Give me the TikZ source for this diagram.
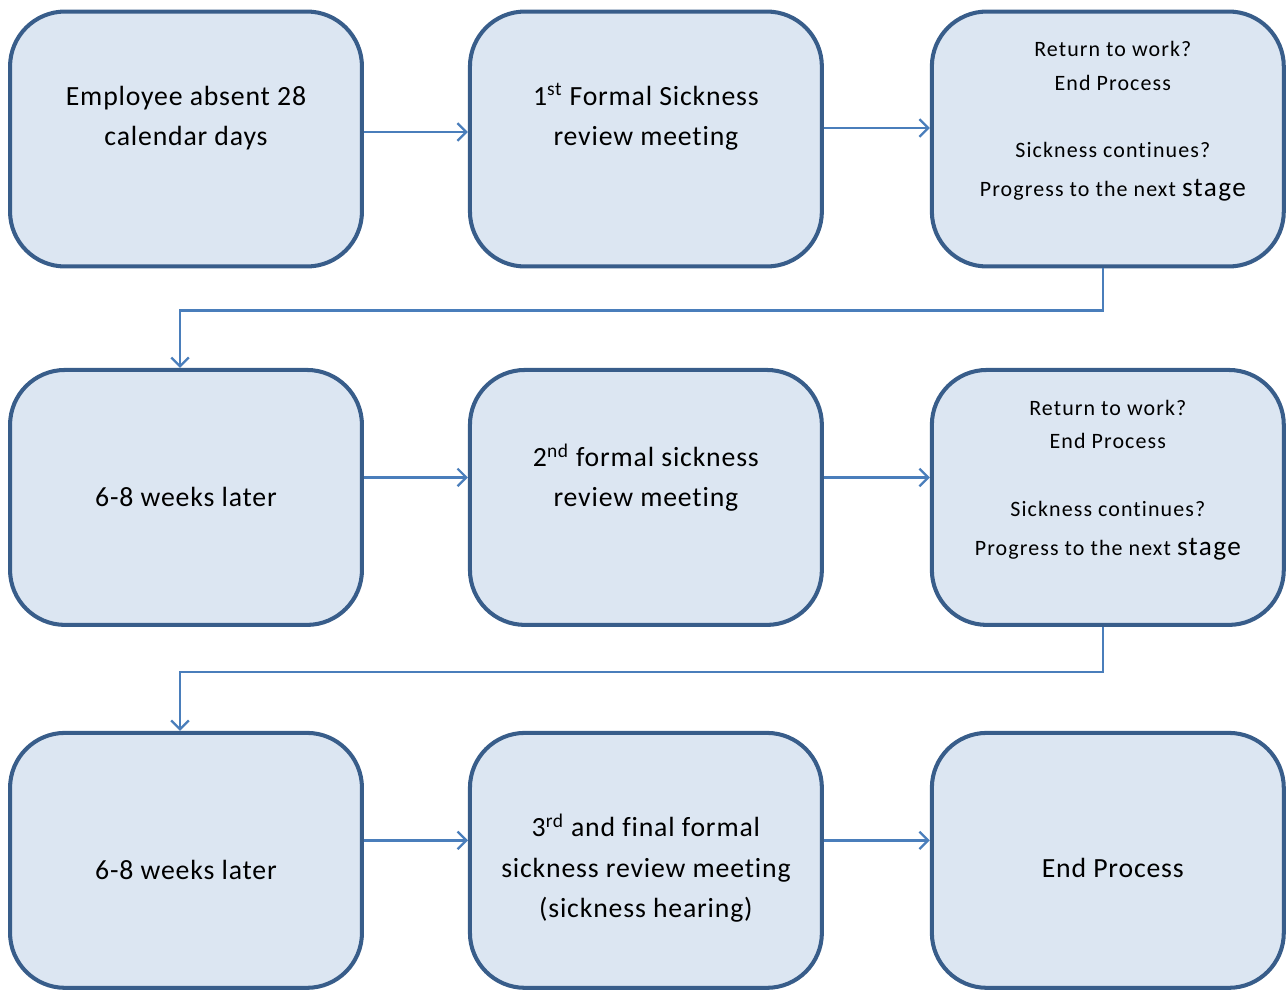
\documentclass[tikz,border=0pt]{standalone}
\usepackage{fontspec}
\setmainfont[Ligatures=NoCommon, LetterSpace=3]{Carlito}
\newfontfamily\widefont[Ligatures=NoCommon, LetterSpace=5]{Carlito}
\usetikzlibrary{positioning}
\usetikzlibrary{arrows.meta}
\definecolor{boxfill}{HTML}{DCE6F2}
\definecolor{boxline}{HTML}{385D8A}
\definecolor{linkcol}{HTML}{4A7EBB}
\tikzset{box/.style={draw=boxline, fill=boxfill, line width=2.3pt, rounded corners=1.1cm, minimum width=7.04cm, minimum height=5.1cm, inner sep=0pt}}
\tikzset{txt/.style={align=center, font=\fontsize{15.8}{23}\selectfont}}
\tikzset{small/.style={align=center, font=\widefont\fontsize{12.5}{19.3}\selectfont}}
\tikzset{link/.style={draw=linkcol, line width=1.3pt, -{Straight Barb[length=5pt,width=10pt]}}}
\newcommand{\bigstage}{{\fontsize{15.5}{18}\selectfont stage}}

\begin{document}
\begin{tikzpicture}[x=0.02cm, y=-0.02cm, on grid]
        \useasboundingbox (0,0) rectangle (1287,990);
        % boxes
        \node[box] (b1) at (186,139) {};
        \node[box, right=9.2cm of b1] (b2) {};
        \node[box, right=9.24cm of b2] (b3) {};
        \node[box, below=7.17cm of b1] (b4) {};
        \node[box, right=9.2cm of b4] (b5) {};
        \node[box, right=9.24cm of b5] (b6) {};
        \node[box, below=7.26cm of b4] (b7) {};
        \node[box, right=9.2cm of b7] (b8) {};
        \node[box, right=9.24cm of b8] (b9) {};
        % texts
        \node[txt] (t1) at ([yshift=0.42cm]b1.center) {Employee absent 28\\calendar days};
        \node[txt] (t2) at ([yshift=0.44cm]b2.center) {1\textsuperscript{st} Formal Sickness\\review meeting};
        \node[small] (t3) at ([yshift=0.36cm,xshift=0.1cm]b3.center) {Return to work?\\End Process\\[19pt]Sickness continues?\\[3pt]Progress to the next \bigstage};
        \node[txt] (t4) at (b4.center) {6-8 weeks later};
        \node[txt] (t5) at ([yshift=0.4cm]b5.center) {2\textsuperscript{nd} formal sickness\\review meeting};
        \node[small] (t6) at ([yshift=0.35cm]b6.center) {Return to work?\\End Process\\[19pt]Sickness continues?\\[3pt]Progress to the next \bigstage};
        \node[txt] (t7) at ([yshift=-0.2cm]b7.center) {6-8 weeks later};
        \node[txt] (t8) at ([yshift=-0.16cm]b8.center) {3\textsuperscript{rd} and final formal\\sickness review meeting\\(sickness hearing)};
        \node[txt] (t9) at ([yshift=-0.16cm,xshift=0.1cm]b9.center) {End Process};
        % connectors
        \draw[link] ([yshift=0.14cm]b1.east) -- ([yshift=0.14cm]b2.west);
        \draw[link] ([yshift=0.22cm]b2.east) -- ([yshift=0.22cm]b3.west);
        \draw[link] ([yshift=0.4cm]b4.east) -- ([yshift=0.4cm]b5.west);
        \draw[link] ([yshift=0.4cm]b5.east) -- ([yshift=0.4cm]b6.west);
        \draw[link] ([yshift=0.4cm]b7.east) -- ([yshift=0.4cm]b8.west);
        \draw[link] ([yshift=0.4cm]b8.east) -- ([yshift=0.4cm]b9.west);
        \draw[link] ([xshift=-0.1cm]b3.south) -- ++(0,42) -| ([xshift=-0.12cm]b4.north);
        \draw[link] ([xshift=-0.1cm]b6.south) -- ++(0,45) -| ([xshift=-0.12cm]b7.north);
    \end{tikzpicture}
\end{document}
